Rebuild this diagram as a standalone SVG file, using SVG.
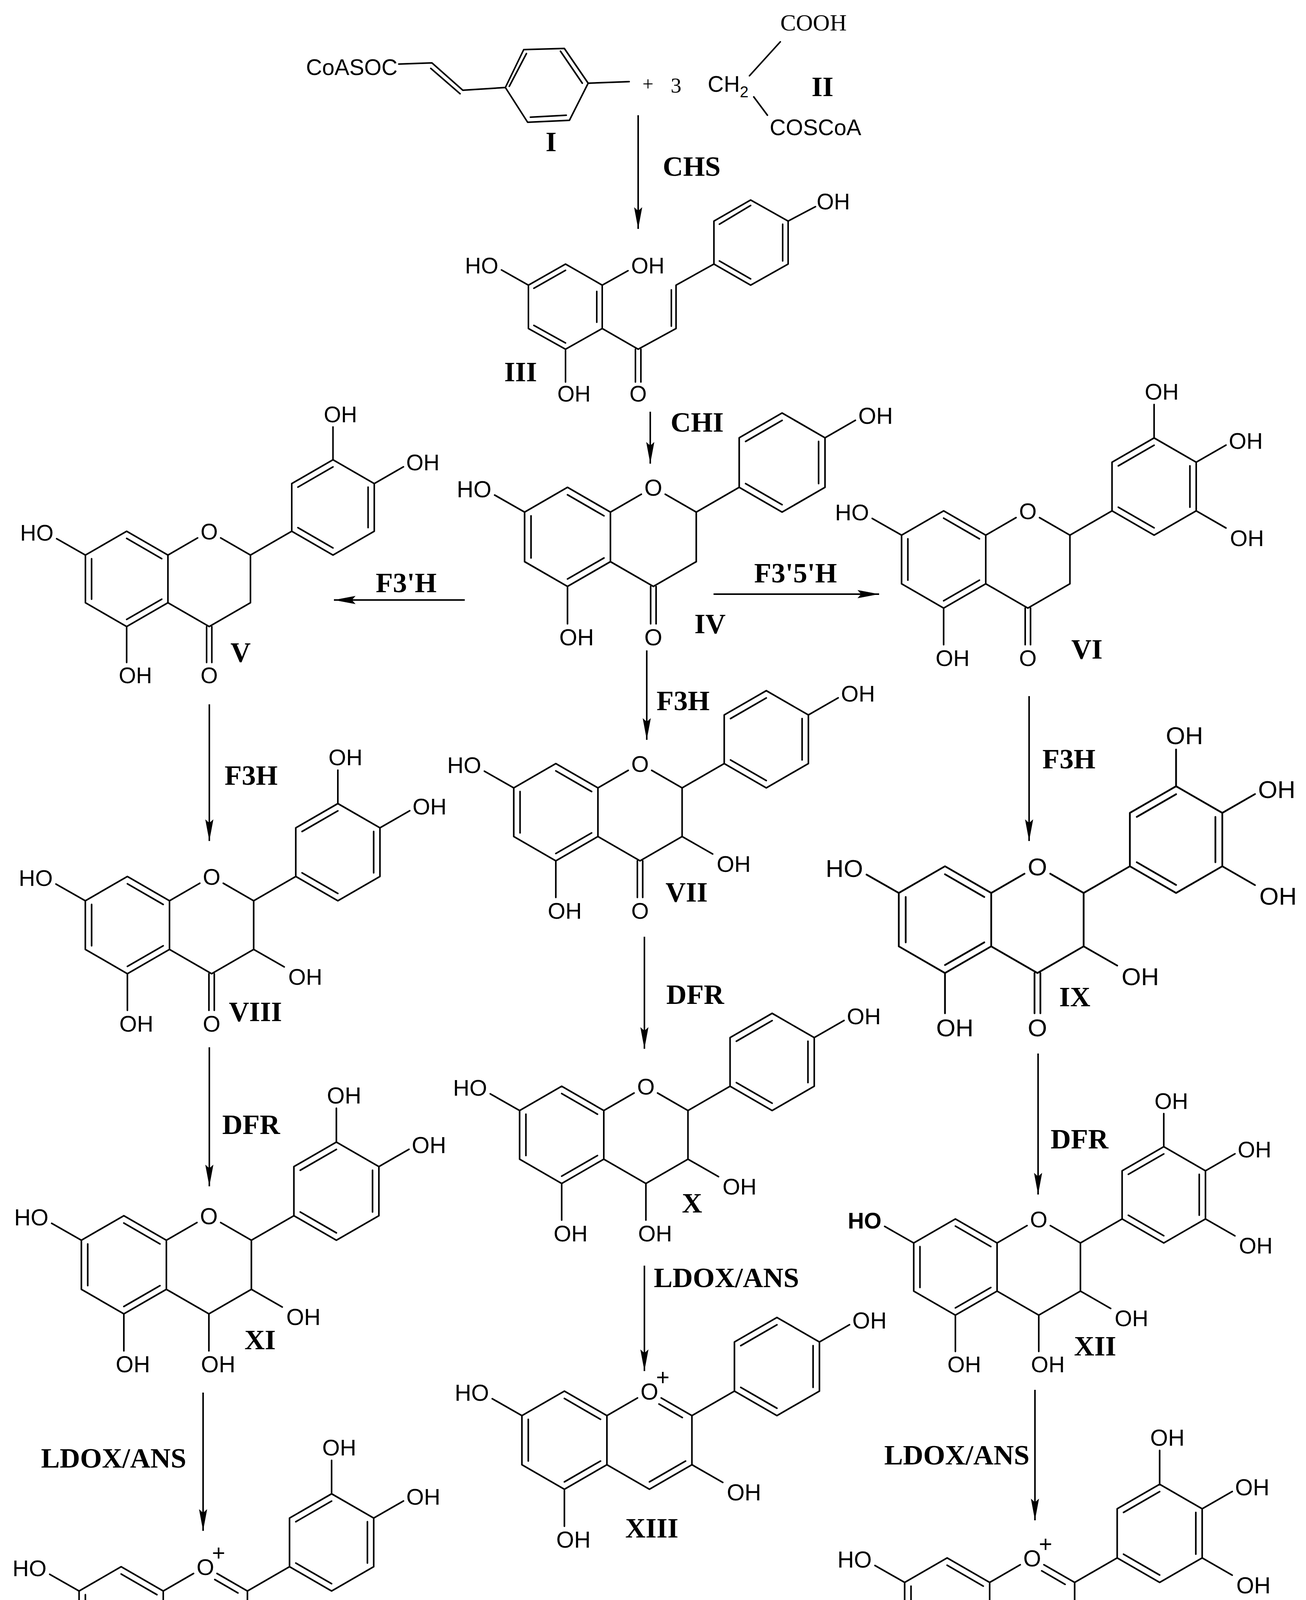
<svg xmlns="http://www.w3.org/2000/svg" xmlns:xlink="http://www.w3.org/1999/xlink" width="3344" height="4438" viewBox="0 0 3344 4438">
<style>
.b{stroke:#000;stroke-width:4;fill:none;stroke-linecap:round;stroke-linejoin:round}
.t{font-family:'Liberation Sans',Arial,sans-serif;font-size:57px;fill:#000}
.lb{font-family:'Liberation Serif','Times New Roman',serif;font-weight:bold;font-size:72px;fill:#000;text-anchor:middle}
.en{font-family:'Liberation Serif','Times New Roman',serif;font-weight:bold;font-size:72px;fill:#000;text-anchor:middle}
.ar{stroke:#000;stroke-width:4;fill:none;marker-end:url(#ah)}
</style>
<defs>
<marker id="ah" markerUnits="userSpaceOnUse" markerWidth="60" markerHeight="30" viewBox="0 -12 52 24" refX="48" refY="0" orient="auto" overflow="visible">
<path d="M0,-9 L48,0 L0,9 L8,0 Z" fill="#000"/>
</marker>
<g id="ringA">
<path class="b" d="M0,0 L-105.7,-61 L-211.3,0 L-211.3,122 L-105.7,183 L0,122 Z"/>
<path class="b" d="M-105.7,-42.7 L-15.9,9.2 M-195.5,9.2 L-195.5,112.9 M-105.7,164.7 L-15.9,112.9 M-211.3,0 L-285,-42 M-105.7,183 L-105.7,275 M0,0 L76,-44 M135,-44 L211.3,0"/>
<text class="t" x="105.7" y="-40" text-anchor="middle">O</text>
<text class="t" x="-126" y="328">OH</text>
</g>
<text id="ho7" class="t" x="-293" y="-37" text-anchor="end">HO</text>
<text id="ho7b" class="t" x="-293" y="-37" text-anchor="end" font-weight="bold">HO</text>
<g id="oh3">
<path class="b" d="M211.3,122 L288,166"/>
<text class="t" x="298" y="211">OH</text>
</g>
<g id="cF">
<path class="b" d="M211.3,0 L211.3,122 L105.7,183 L0,122 M99,183 L99,275 M112.4,183 L112.4,275"/>
<text class="t" x="105.7" y="328" text-anchor="middle">O</text>
</g>
<g id="cL">
<path class="b" d="M211.3,0 L211.3,122 L105.7,183 L0,122 M105.7,183 L105.7,275"/>
<text class="t" x="86" y="328">OH</text>
</g>
<g id="cAn">
<path class="b" d="M211.3,0 L211.3,122 L105.7,183 L0,122 M129.4,-28.8 L187.5,4.8 M195.5,112.9 L105.7,164.7"/>
<text class="t" x="139" y="-76" text-anchor="middle">+</text>
</g>
<g id="bR">
<path class="b" d="M211.3,0 L317,-61 M317,-61 L317,-183 L422.6,-244 L528.3,-183 L528.3,-61 L422.6,0 Z M332.8,-173.9 L422.6,-225.7 M512.5,-173.9 L512.5,-70.2 M422.6,-18.3 L332.8,-70.2 M528.3,-183 L603,-226"/>
<text class="t" x="610" y="-217">OH</text>
</g>
<g id="b3p">
<path class="b" d="M422.6,-244 L422.6,-328"/>
<text class="t" x="399" y="-340">OH</text>
</g>
<g id="b5p">
<path class="b" d="M528.3,-61 L603,-18"/>
<text class="t" x="613" y="27">OH</text>
</g>
</defs>
<rect width="3344" height="4438" fill="#fff"/>

<g id="cpd-I">
<text class="t" x="1018" y="192" text-anchor="end" font-size="58">CoASOC</text>
<path class="b" d="M1021,164 L1106,161 L1185,231 L1294,224 M1103,175 L1178,240 M1294,224 L1341,127 L1445,124 L1506,213 L1458,308 L1351,313 Z M1304,221 L1348,137 M1435,131 L1491,213 M1358,300 L1450,295 M1506,213 L1611,209"/>
<text class="lb" x="1411" y="387">I</text>
</g>
<g id="plus3">
<text x="1659" y="232" font-family="'Liberation Serif','Times New Roman',serif" font-size="50" text-anchor="middle">+</text>
<text x="1731" y="237" font-family="'Liberation Serif','Times New Roman',serif" font-size="55" text-anchor="middle">3</text>
</g>
<g id="cpd-II">
<text x="2083" y="78" font-family="'Liberation Serif','Times New Roman',serif" font-size="60" text-anchor="middle">COOH</text>
<text class="t" x="1812" y="235">CH<tspan font-size="40" dy="14">2</tspan></text>
<path class="b" d="M1919,194 L1998,107 M1930,248 L1965,295"/>
<text class="t" x="2088" y="346" text-anchor="middle" font-size="60">COSCoA</text>
<text class="lb" x="2106" y="246">II</text>
</g>
<g id="cpd-III">
<path class="b" d="M1448,676 L1542,730 L1542,841 L1448,894 L1353,841 L1353,730 Z M1367,738 L1448,692 M1367,833 L1448,878 M1528,746 L1528,825 M1353,730 L1284,691 M1542,730 L1608,693 M1448,894 L1448,978 M1542,841 L1634,894 M1627,894 L1627,978 M1641,894 L1641,978 M1634,894 L1731,841 L1731,730 L1828,676 M1719,835 L1719,742 M1828,676 L1828,566 L1922,512 L2018,566 L2018,676 L1922,730 Z M1842,574 L1922,526 M2004,574 L2004,668 M1922,714 L1842,668 M2018,566 L2088,529"/>
<text class="t" x="1276" y="700" text-anchor="end">HO</text>
<text class="t" x="1616" y="700">OH</text>
<text class="t" x="1427" y="1028">OH</text>
<text class="t" x="1634" y="1028" text-anchor="middle">O</text>
<text class="t" x="2091" y="536">OH</text>
<text class="lb" x="1333" y="976">III</text>
</g>

<g id="cpd-IV" transform="translate(1563,1311) scale(1.04)"><use xlink:href="#ringA"/><use xlink:href="#ho7"/><use xlink:href="#cF"/><use xlink:href="#bR"/></g>
<g id="cpd-V" transform="translate(430,1421) scale(1)"><use xlink:href="#ringA"/><use xlink:href="#ho7"/><use xlink:href="#cF"/><use xlink:href="#bR"/><use xlink:href="#b3p"/></g>
<g id="cpd-VI" transform="translate(2524,1370) scale(1.02)"><use xlink:href="#ringA"/><use xlink:href="#ho7"/><use xlink:href="#cF"/><use xlink:href="#bR"/><use xlink:href="#b3p"/><use xlink:href="#b5p"/></g>
<g id="cpd-VII" transform="translate(1531,2017) scale(1.02)"><use xlink:href="#ringA"/><use xlink:href="#ho7"/><use xlink:href="#cF"/><use xlink:href="#oh3"/><use xlink:href="#bR"/></g>
<g id="cpd-VIII" transform="translate(434,2306) scale(1.02)"><use xlink:href="#ringA"/><use xlink:href="#ho7"/><use xlink:href="#cF"/><use xlink:href="#oh3"/><use xlink:href="#bR"/><use xlink:href="#b3p"/></g>
<g id="cpd-IX" transform="translate(2538,2286) scale(1.12)"><use xlink:href="#ringA"/><use xlink:href="#ho7"/><use xlink:href="#cF"/><use xlink:href="#oh3"/><use xlink:href="#bR"/><use xlink:href="#b3p"/><use xlink:href="#b5p"/></g>
<g id="cpd-X" transform="translate(1546,2843) scale(1.02)"><use xlink:href="#ringA"/><use xlink:href="#ho7"/><use xlink:href="#cL"/><use xlink:href="#oh3"/><use xlink:href="#bR"/></g>
<g id="cpd-XI" transform="translate(426,3175) scale(1.03)"><use xlink:href="#ringA"/><use xlink:href="#ho7"/><use xlink:href="#cL"/><use xlink:href="#oh3"/><use xlink:href="#bR"/><use xlink:href="#b3p"/></g>
<g id="cpd-XII" transform="translate(2553,3182) scale(1.01)"><use xlink:href="#ringA"/><use xlink:href="#ho7b"/><use xlink:href="#cL"/><use xlink:href="#oh3"/><use xlink:href="#bR"/><use xlink:href="#b3p"/><use xlink:href="#b5p"/></g>
<g id="cpd-XIII" transform="translate(1554,3624) scale(1.03)"><use xlink:href="#ringA"/><use xlink:href="#ho7"/><use xlink:href="#cAn"/><use xlink:href="#oh3"/><use xlink:href="#bR"/></g>
<g id="cpd-XIV" transform="translate(418,4073) scale(1.02)"><use xlink:href="#ringA"/><use xlink:href="#ho7"/><use xlink:href="#cAn"/><use xlink:href="#oh3"/><use xlink:href="#bR"/><use xlink:href="#b3p"/></g>
<g id="cpd-XV" transform="translate(2534,4051) scale(1.03)"><use xlink:href="#ringA"/><use xlink:href="#ho7"/><use xlink:href="#cAn"/><use xlink:href="#oh3"/><use xlink:href="#bR"/><use xlink:href="#b3p"/><use xlink:href="#b5p"/></g>

<g id="labels">
<text class="lb" x="1818" y="1621">IV</text>
<text class="lb" x="616" y="1694">V</text>
<text class="lb" x="2783" y="1686">VI</text>
<text class="lb" x="1758" y="2308">VII</text>
<text class="lb" x="654" y="2614">VIII</text>
<text class="lb" x="2752" y="2576">IX</text>
<text class="lb" x="1772" y="3104">X</text>
<text class="lb" x="666" y="3454">XI</text>
<text class="lb" x="2804" y="3470">XII</text>
<text class="lb" x="1669" y="3936">XIII</text>
<text class="lb" x="639" y="4361">XIV</text>
<text class="lb" x="2637" y="4348">XV</text>
</g>

<g id="connectors">
<path class="ar" d="M1634,295 L1634,586"/>
<path class="ar" d="M1665,1054 L1665,1187"/>
<path class="ar" d="M1190,1536 L855,1536"/>
<path class="ar" d="M1827,1521 L2251,1521"/>
<path class="ar" d="M1656,1665 L1656,1894"/>
<path class="ar" d="M536,1803 L536,2153"/>
<path class="ar" d="M2635,1782 L2635,2153"/>
<path class="ar" d="M536,2681 L536,3037"/>
<path class="ar" d="M1650,2398 L1650,2685"/>
<path class="ar" d="M2658,2697 L2658,3058"/>
<path class="ar" d="M520,3565 L520,3919"/>
<path class="ar" d="M1650,3240 L1650,3510"/>
<path class="ar" d="M2650,3558 L2650,3892"/>
<text class="en" x="1771" y="450" font-size="52">CHS</text>
<text class="en" x="1785" y="1105">CHI</text>
<text class="en" x="1040" y="1516" font-size="60">F3'H</text>
<text class="en" x="2037" y="1491" font-size="60">F3'5'H</text>
<text class="en" x="1749" y="1818">F3H</text>
<text class="en" x="643" y="2009">F3H</text>
<text class="en" x="2737" y="1967">F3H</text>
<text class="en" x="643" y="2903">DFR</text>
<text class="en" x="1780" y="2570">DFR</text>
<text class="en" x="2764" y="2940">DFR</text>
<text class="en" x="291" y="3757">LDOX/ANS</text>
<text class="en" x="1860" y="3295">LDOX/ANS</text>
<text class="en" x="2450" y="3749">LDOX/ANS</text>
</g>
</svg>
